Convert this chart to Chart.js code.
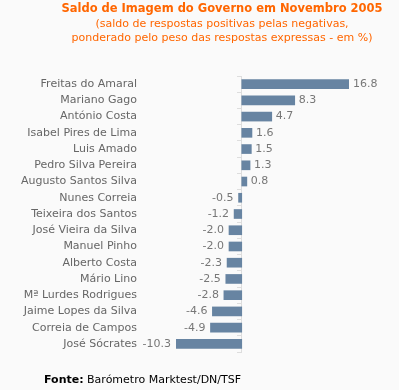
<!DOCTYPE html>
<html>
<head>
<meta charset="utf-8">
<script src="https://cdn.jsdelivr.net/npm/chart.js@4/dist/chart.umd.min.js"></script>
<style>
  html, body { margin: 0; padding: 0; background: #fafafa; }
  #wrap { width: 399px; height: 390px; position: relative; }
</style>
</head>
<body>
<div id="wrap"><canvas id="c" width="399" height="390"></canvas></div>
<script>
const categories = [
  "Freitas do Amaral", "Mariano Gago", "António Costa", "Isabel Pires de Lima",
  "Luis Amado", "Pedro Silva Pereira", "Augusto Santos Silva", "Nunes Correia",
  "Teixeira dos Santos", "José Vieira da Silva", "Manuel Pinho", "Alberto Costa",
  "Mário Lino", "Mª Lurdes Rodrigues", "Jaime Lopes da Silva", "Correia de Campos",
  "José Sócrates"
];
const values = [16.8, 8.3, 4.7, 1.6, 1.5, 1.3, 0.8, -0.5, -1.2, -2.0, -2.0, -2.3, -2.5, -2.8, -4.6, -4.9, -10.3];
const titleText = "Saldo de Imagem do Governo em Novembro 2005";
const subtitleLines = ["(saldo de respostas positivas pelas negativas,", "ponderado pelo peso das respostas expressas - em %)"];
const sourceLabel = "Fonte:";
const sourceText = " Barómetro Marktest/DN/TSF";

const FONT = "'DejaVu Sans', sans-serif";

const valueLabels = {
  id: 'valueLabels',
  afterDatasetsDraw(chart) {
    const ctx = chart.ctx;
    const meta = chart.getDatasetMeta(0);
    ctx.save();
    ctx.font = "11px " + FONT;
    ctx.fillStyle = "#777";
    ctx.textBaseline = "middle";
    meta.data.forEach((el, i) => {
      const v = chart.data.datasets[0].data[i];
      const txt = v.toFixed(1);
      if (v >= 0) { ctx.textAlign = "left"; ctx.fillText(txt, el.x + 4, el.y); }
      else { ctx.textAlign = "right"; ctx.fillText(txt, el.x - 5, el.y); }
    });
    ctx.restore();
  }
};

const texts = {
  id: 'texts',
  afterDraw(chart) {
    const ctx = chart.ctx;
    ctx.save();
    ctx.textBaseline = "middle";
    ctx.textAlign = "center";
    ctx.fillStyle = "#ff6600";
    ctx.font = "bold 11.5px " + FONT;
    ctx.fillText(titleText, 222, 9);
    ctx.font = "11px " + FONT;
    subtitleLines.forEach((l, i) => ctx.fillText(l, 222, 24 + i * 14));
    ctx.textAlign = "left";
    ctx.fillStyle = "#000";
    ctx.font = "bold 11px " + FONT;
    const x0 = 44, y0 = 380;
    ctx.fillText(sourceLabel, x0, y0);
    const w = ctx.measureText(sourceLabel).width;
    ctx.font = "11px " + FONT;
    ctx.fillText(sourceText, x0 + w, y0);
    ctx.restore();
  }
};

new Chart(document.getElementById('c'), {
  type: 'bar',
  data: {
    labels: categories,
    datasets: [{
      data: values,
      backgroundColor: '#6784a2',
      borderWidth: 0,
      barThickness: 9
    }]
  },
  plugins: [valueLabels, texts],
  options: {
    indexAxis: 'y',
    responsive: false,
    animation: false,
    devicePixelRatio: 1,
    layout: { padding: { left: 0, right: 50, top: 76, bottom: 38 } },
    plugins: {
      legend: { display: false },
      tooltip: { enabled: false },
      title: { display: false }
    },
    scales: {
      y: {
        type: 'category',
        position: 'left',
        grid: { display: true, drawOnChartArea: false, drawTicks: true, tickLength: 39, color: 'rgba(0,0,0,0)' },
        border: { display: false },
        ticks: { color: '#666', font: { family: FONT, size: 11 }, padding: 0, autoSkip: false },
        afterFit(scale) { scale.width = 176; }
      },
      x: {
        type: 'linear',
        display: false,
        min: Math.min(...values),
        max: Math.max(...values)
      },
      y2: {
        type: 'category',
        axis: 'y',
        position: { x: 0 },
        offset: true,
        grid: { offset: true, drawOnChartArea: false, drawTicks: true, tickLength: 4, color: '#dddddd' },
        border: { display: true, color: '#dddddd' },
        ticks: { display: false }
      }
    }
  }
});
</script>
</body>
</html>
